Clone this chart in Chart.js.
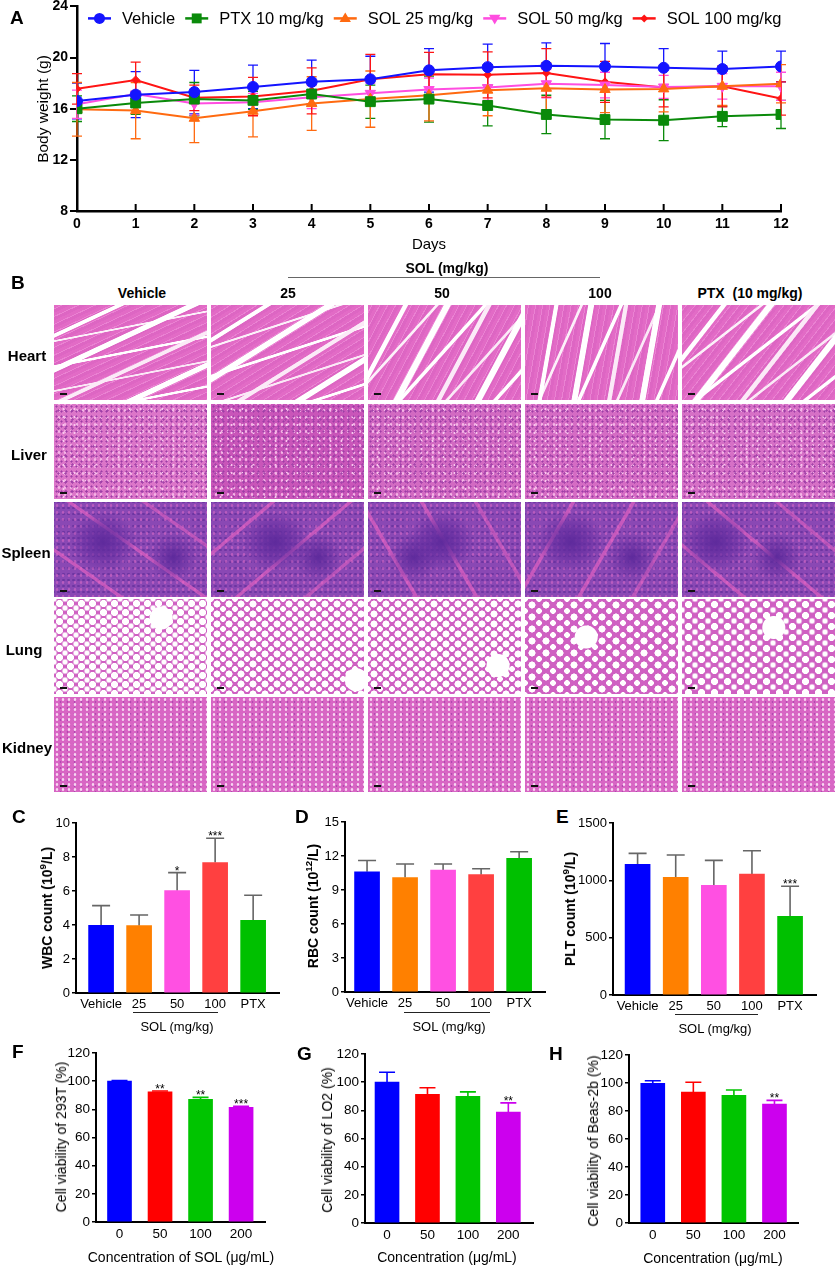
<!DOCTYPE html>
<html>
<head>
<meta charset="utf-8">
<script src="https://cdn.jsdelivr.net/npm/chart.js@4.4.0/dist/chart.umd.min.js"></script>
<style>
  html, body { margin: 0; padding: 0; background: #fff; }
  body { width: 837px; height: 1267px; overflow: hidden; position: relative;
         font-family: 'Liberation Sans', Arial, Helvetica, sans-serif; color: #000; }
  .t { position: absolute; white-space: pre; line-height: 1; transform: translate(-50%, -50%); }
  .r { transform: translate(-50%, -50%) rotate(-90deg); }
  .b { font-weight: bold; }
  .lt { position: absolute; font-weight: bold; font-size: 19px; line-height: 1; }
  .ul { position: absolute; height: 0; border-top: 1.5px solid #222; }
  .tile { position: absolute; overflow: hidden; }
  .sb { position: absolute; left: 6px; bottom: 5px; width: 7px; height: 2px; background: #111; }
  .box { position: absolute; }
  sup { font-size: 0.7em; line-height: 0; }
</style>
</head>
<body>
<script>
const FONT = "'Liberation Sans', Arial, Helvetica, sans-serif";

// ---------- A: body weight ----------
const days = [0, 1, 2, 3, 4, 5, 6, 7, 8, 9, 10, 11, 12];
const groupNames = ["Vehicle", "PTX 10 mg/kg", "SOL 25 mg/kg", "SOL 50 mg/kg", "SOL 100 mg/kg"];
const vehicleWt = [16.6, 17.1, 17.3, 17.7, 18.1, 18.3, 19.0, 19.25, 19.35, 19.3, 19.2, 19.1, 19.3];
const vehicleSd = [1.4, 1.8, 1.7, 1.7, 1.7, 1.8, 1.7, 1.8, 1.8, 1.8, 1.5, 1.4, 1.2];
const ptxWt = [16.0, 16.45, 16.75, 16.65, 17.15, 16.55, 16.75, 16.25, 15.55, 15.15, 15.1, 15.4, 15.55];
const ptxSd = [1.0, 0.9, 1.3, 0.7, 0.9, 1.3, 1.8, 1.6, 1.5, 1.5, 1.6, 0.8, 1.1];
const sol25Wt = [15.95, 15.85, 15.25, 15.8, 16.4, 16.75, 17.05, 17.45, 17.6, 17.5, 17.55, 17.75, 17.95];
const sol25Sd = [2.1, 2.2, 1.9, 2.0, 2.1, 2.2, 2.0, 2.0, 2.0, 1.8, 1.8, 1.5, 1.5];
const sol50Wt = [16.35, 17.15, 16.4, 16.5, 16.9, 17.2, 17.5, 17.65, 17.95, 17.85, 17.7, 17.75, 17.75];
const sol50Sd = [1.1, 1.0, 0.9, 0.7, 0.9, 0.8, 0.9, 1.0, 1.1, 1.0, 0.9, 1.0, 1.1];
const sol100Wt = [17.55, 18.25, 16.85, 16.95, 17.4, 18.3, 18.7, 18.65, 18.8, 18.1, 17.65, 17.75, 16.8];
const sol100Sd = [1.2, 1.4, 1.0, 1.5, 1.8, 1.95, 1.7, 1.8, 1.9, 1.6, 1.5, 1.6, 1.3];
const weightTicks = [8, 12, 16, 20, 24];

// ---------- C-E: blood counts ----------
const bloodCats = ["Vehicle", "25", "50", "100", "PTX"];
const wbc = [3.98, 3.96, 6.02, 7.67, 4.28];
const wbcSd = [1.16, 0.63, 1.06, 1.43, 1.47];
const wbcStars = ["", "", "*", "***", ""];
const rbc = [10.6, 10.1, 10.75, 10.35, 11.8];
const rbcSd = [1.0, 1.2, 0.55, 0.53, 0.58];
const rbcStars = ["", "", "", "", ""];
const plt = [1139, 1026, 956, 1055, 686];
const pltSd = [96, 195, 218, 203, 262];
const pltStars = ["", "", "", "", "***"];

// ---------- F-H: cell viability ----------
const concCats = ["0", "50", "100", "200"];
const via293 = [100, 92.5, 87.1, 81.5];
const via293Sd = [0.4, 0.5, 1.4, 0.6];
const via293Stars = ["", "**", "**", "***"];
const viaLo2 = [100, 91.3, 90.0, 78.7];
const viaLo2Sd = [7.0, 4.7, 3.1, 6.6];
const viaLo2Stars = ["", "", "", "**"];
const viaBeas = [99.8, 93.6, 91.2, 85.0];
const viaBeasSd = [1.8, 6.9, 3.8, 2.6];
const viaBeasStars = ["", "", "", "**"];

// ---------- B: histology grid labels ----------
const organs = ["Heart", "Liver", "Spleen", "Lung", "Kidney"];
const histoHeads = ["Vehicle", "25", "50", "100", "PTX  (10 mg/kg)"];

const groupColors = ["#1414ff", "#0a8a0a", "#ff6a10", "#ff4de0", "#ff1414"];
const bloodColors = ["#0000ff", "#ff8000", "#ff50e2", "#ff4040", "#00c000"];
const viaColors = ["#0000ff", "#ff0000", "#00c400", "#cc00ee"];

// ---------- helpers ----------
function addText(html, x, y, cls, size) {
  const d = document.createElement("div");
  d.className = "t " + (cls || "");
  d.style.left = x + "px";
  d.style.top = y + "px";
  d.style.fontSize = (size || 14) + "px";
  d.innerHTML = html;
  document.body.appendChild(d);
}
function addLetter(ch, x, y) {
  const d = document.createElement("div");
  d.className = "lt";
  d.style.left = x + "px";
  d.style.top = y + "px";
  d.textContent = ch;
  document.body.appendChild(d);
}
function addLine(x0, x1, y, color) {
  const d = document.createElement("div");
  d.className = "ul";
  d.style.left = x0 + "px";
  d.style.top = y + "px";
  d.style.width = (x1 - x0) + "px";
  if (color) d.style.borderTopColor = color;
  document.body.appendChild(d);
}
// area = [left, top, right, bottom] of the wanted chart area
function addCanvas(area, W, T, R, H) {
  const d = document.createElement("div");
  d.className = "box";
  d.style.left = (area[0] - W) + "px";
  d.style.top = (area[1] - T) + "px";
  d.style.width = (area[2] - area[0] + W + R) + "px";
  d.style.height = (area[3] - area[1] + T + H) + "px";
  const c = document.createElement("canvas");
  d.appendChild(c);
  document.body.appendChild(d);
  return c;
}

function drawMarker(ctx, style, x, y, r, rot) {
  ctx.beginPath();
  if (style === "circle") {
    ctx.arc(x, y, r, 0, Math.PI * 2);
  } else if (style === "rect") {
    const s = r * Math.SQRT1_2;
    ctx.rect(x - s, y - s, 2 * s, 2 * s);
  } else if (style === "rectRot") {
    ctx.moveTo(x, y - r); ctx.lineTo(x + r, y); ctx.lineTo(x, y + r); ctx.lineTo(x - r, y);
    ctx.closePath();
  } else {
    const dir = rot === 180 ? -1 : 1;
    ctx.moveTo(x, y - dir * r);
    ctx.lineTo(x + r * 0.95, y + dir * r * 0.6);
    ctx.lineTo(x - r * 0.95, y + dir * r * 0.6);
    ctx.closePath();
  }
  ctx.fill();
}

const errorBars = {
  id: "errorBars",
  beforeDatasetsDraw(chart, args, opts) {
    const ctx = chart.ctx;
    const y = chart.scales.y;
    chart.data.datasets.forEach((ds, i) => {
      if (!ds.errors) return;
      const meta = chart.getDatasetMeta(i);
      ctx.save();
      ctx.lineWidth = opts.width || 1.5;
      meta.data.forEach((el, j) => {
        const v = ds.data[j].y;
        const e = ds.errors[j];
        const c = ds.errorColor;
        ctx.strokeStyle = Array.isArray(c) ? c[j] : c;
        const yTop = y.getPixelForValue(v + e);
        const yBot = y.getPixelForValue(opts.both ? v - e : v);
        const cap = opts.cap / 2;
        ctx.beginPath();
        ctx.moveTo(el.x, yBot); ctx.lineTo(el.x, yTop);
        ctx.moveTo(el.x - cap, yTop); ctx.lineTo(el.x + cap, yTop);
        if (opts.both) { ctx.moveTo(el.x - cap, yBot); ctx.lineTo(el.x + cap, yBot); }
        ctx.stroke();
      });
      ctx.restore();
    });
  },
  afterDatasetsDraw(chart) {
    const ctx = chart.ctx;
    const y = chart.scales.y;
    chart.data.datasets.forEach((ds, i) => {
      if (!ds.stars) return;
      const meta = chart.getDatasetMeta(i);
      ctx.save();
      ctx.font = "12px " + FONT;
      ctx.fillStyle = "#000";
      ctx.textAlign = "center";
      ctx.textBaseline = "alphabetic";
      meta.data.forEach((el, j) => {
        if (!ds.stars[j]) return;
        const yTop = y.getPixelForValue(ds.data[j].y + ds.errors[j]);
        ctx.fillText(ds.stars[j], el.x, yTop + 2);
      });
      ctx.restore();
    });
  }
};

// inward x ticks for panel A
const innerXTicks = {
  id: "innerXTicks",
  afterDraw(chart) {
    const ctx = chart.ctx;
    const x = chart.scales.x;
    const b = chart.chartArea.bottom;
    ctx.save();
    ctx.strokeStyle = "#000";
    ctx.lineWidth = 2;
    ctx.beginPath();
    x.ticks.forEach(t => {
      const px = x.getPixelForValue(t.value);
      ctx.moveTo(px, b); ctx.lineTo(px, b - 7);
    });
    ctx.stroke();
    ctx.restore();
  }
};

// legend drawn in a row inside the plot area
const inlineLegend = {
  id: "inlineLegend",
  afterDraw(chart) {
    const ctx = chart.ctx;
    const area = chart.chartArea;
    let x = area.left + 11;
    const y = area.top + 12;
    ctx.save();
    ctx.font = "16.5px " + FONT;
    ctx.textBaseline = "middle";
    chart.data.datasets.forEach(ds => {
      ctx.strokeStyle = ds.borderColor;
      ctx.fillStyle = ds.borderColor;
      ctx.lineWidth = 2.5;
      ctx.beginPath();
      ctx.moveTo(x, y); ctx.lineTo(x + 23, y);
      ctx.stroke();
      drawMarker(ctx, ds.pointStyle, x + 11.5, y, ds.pointRadius, ds.pointRotation);
      ctx.fillStyle = "#000";
      ctx.fillText(ds.label, x + 34, y + 1);
      x += 34 + ctx.measureText(ds.label).width + 10;
    });
    ctx.restore();
  }
};

// ---------- A ----------
function weightSeries(name, wt, sd, color, style, radius, rot) {
  return {
    label: name,
    data: days.map((d, i) => ({ x: d, y: wt[i] })),
    errors: sd,
    errorColor: color,
    borderColor: color,
    backgroundColor: color,
    borderWidth: 2,
    pointStyle: style,
    pointRadius: radius,
    pointRotation: rot || 0,
    pointBackgroundColor: color,
    pointBorderColor: color,
    pointBorderWidth: 1,
    tension: 0
  };
}

new Chart(addCanvas([77, 6, 781, 211], 77, 10, 56, 30), {
  type: "line",
  data: {
    datasets: [
      weightSeries(groupNames[0], vehicleWt, vehicleSd, groupColors[0], "circle", 5.5),
      weightSeries(groupNames[1], ptxWt, ptxSd, groupColors[1], "rect", 7),
      weightSeries(groupNames[2], sol25Wt, sol25Sd, groupColors[2], "triangle", 6),
      weightSeries(groupNames[3], sol50Wt, sol50Sd, groupColors[3], "triangle", 6, 180),
      weightSeries(groupNames[4], sol100Wt, sol100Sd, groupColors[4], "rectRot", 4)
    ]
  },
  options: {
    responsive: true,
    maintainAspectRatio: false,
    animation: false,
    layout: { padding: { top: 10, right: 56, left: 0, bottom: 0 } },
    plugins: { legend: { display: false }, tooltip: { enabled: false }, errorBars: { cap: 10, width: 1.3, both: true } },
    scales: {
      x: {
        type: "linear", min: 0, max: 12, offset: false,
        afterBuildTicks: s => { s.ticks = days.map(d => ({ value: d })); },
        afterFit: s => { s.height = 30; },
        grid: { display: false, drawTicks: false },
        border: { color: "#000", width: 2.5 },
        ticks: { font: { size: 14, weight: "bold" }, color: "#000", padding: 5, maxRotation: 0, autoSkip: false }
      },
      y: {
        min: 8, max: 24,
        afterBuildTicks: s => { s.ticks = weightTicks.map(v => ({ value: v })); },
        afterFit: s => { s.width = 77; },
        grid: { drawOnChartArea: false, drawTicks: true, tickLength: 7, color: "#000", lineWidth: 2 },
        border: { color: "#000", width: 2.5 },
        ticks: { font: { size: 14, weight: "bold" }, color: "#000", padding: 2 }
      }
    }
  },
  plugins: [errorBars, innerXTicks, inlineLegend]
});

addLetter("A", 10, 8);
addText("Body weight (g)", 43, 109, "r", 15.5);
addText("Days", 429, 243, "", 15);

// ---------- B: histology tiles (stand-in textures) ----------
const colX = [54, 211, 368, 525, 682];
const rowY = [305, 404, 502, 599, 697];
const tileW = 153, tileH = 95;

function tissue(organ, c) {
  if (organ === "Heart") {
    const a = [155, 148, 118, 100, 128][c];
    return `linear-gradient(${a}deg, transparent 0 17%, #fff 17.5% 19.5%, transparent 20% 37%, #fff 37.5% 40.5%, transparent 41% 58%, #fbeaf7 58.5% 60.5%, transparent 61% 77%, #fff 77.5% 80.5%, transparent 81%),
            linear-gradient(${a + 14}deg, transparent 0 28%, rgba(255,255,255,.9) 28.5% 29.5%, transparent 30% 48%, #fff 48.5% 50%, transparent 50.5% 68%, rgba(255,255,255,.85) 68.5% 69.5%, transparent 70% 88%, #fff 88.5% 90%, transparent 90.5%),
            repeating-linear-gradient(${a}deg, #e26bc6 0 3px, #ea82d2 3px 4px, #dd66c3 4px 7px)`;
  }
  if (organ === "Liver") {
    const base = ["#dc76c9", "#c955b9", "#d26ac2", "#d56cc4", "#d670c6"][c];
    return `radial-gradient(circle, #9d3da6 0 0.8px, transparent 1.3px) 0 0/5px 5px,
            radial-gradient(circle, #a445aa 0 0.9px, transparent 1.4px) 1px 2px/7px 9px,
            radial-gradient(circle, #f4b4e6 0 1px, transparent 1.6px) 2px 3px/6px 7px,
            radial-gradient(circle, #f8c8ee 0 0.8px, transparent 1.3px) 4px 1px/11px 8px, ${base}`;
  }
  if (organ === "Spleen") {
    return `radial-gradient(ellipse 22% 32% at ${[32, 42, 48, 30, 22][c]}% 42%, #5e2a9c 0, rgba(100,45,160,.6) 55%, transparent 100%),
            radial-gradient(ellipse 16% 26% at ${[78, 70, 30, 70, 62][c]}% 58%, #5e2a9c 0, transparent 100%),
            linear-gradient(${[35, 140, 60, 120, 40][c]}deg, transparent 0 22%, rgba(238,100,195,.6) 22.5% 24%, transparent 24.5% 51%, rgba(238,100,195,.6) 51.5% 53%, transparent 53.5% 77%, rgba(238,100,195,.5) 77.5% 79%, transparent 79.5%),
            radial-gradient(circle, rgba(225,110,200,.55) 0 1px, transparent 1.6px) 0 0/6px 7px,
            radial-gradient(circle, rgba(90,40,150,.6) 0 1px, transparent 1.5px) 2px 3px/5px 6px,
            #8a48b4`;
  }
  if (organ === "Lung") {
    const cell = [11, 12, 12, 14, 13][c];
    return `radial-gradient(circle at ${[70, 95, 85, 40, 60][c]}% ${[20, 85, 70, 40, 30][c]}%, #fff 0 11px, transparent 12px),
            radial-gradient(circle, #fff 0 3.3px, transparent 3.8px) 0 0/${cell}px ${cell - 2}px,
            radial-gradient(circle, #fff 0 2.6px, transparent 3.1px) ${cell / 2}px ${cell / 2 - 1}px/${cell}px ${cell - 2}px,
            #cf60c2`;
  }
  return `radial-gradient(circle, #f8d6f2 0 1px, transparent 1.6px) 0 0/6px 5px,
          radial-gradient(circle, #b248b0 0 0.7px, transparent 1.2px) 3px 2px/7px 6px, #d866c4`;
}

organs.forEach((organ, r) => {
  colX.forEach((x, c) => {
    const d = document.createElement("div");
    d.className = "tile";
    d.style.left = x + "px";
    d.style.top = rowY[r] + "px";
    d.style.width = tileW + "px";
    d.style.height = tileH + "px";
    d.style.background = tissue(organ, c);
    const sb = document.createElement("div");
    sb.className = "sb";
    d.appendChild(sb);
    document.body.appendChild(d);
  });
});

addLetter("B", 11, 273);
addText("SOL (mg/kg)", 447, 268, "b", 14);
addLine(288, 600, 277, "#666");
const headX = [142, 288, 442, 600, 750];
histoHeads.forEach((h, i) => addText(h, headX[i], 293, "b", 14));
const rowLabelX = [27, 29, 26, 24, 27];
organs.forEach((o, r) => addText(o, rowLabelX[r], rowY[r] + 50, "b", 15));

// ---------- bar panels ----------
function barPanel(area, cats, vals, errs, stars, colors, errColor, yMax, yStep, xMin, xMax, barW, tickSize, cap) {
  const W = 44, T = 14, R = 8, H = 24;
  return new Chart(addCanvas(area, W, T, R, H), {
    type: "bar",
    data: {
      datasets: [{
        data: vals.map((v, i) => ({ x: i, y: v })),
        backgroundColor: colors,
        borderWidth: 0,
        barThickness: barW,
        errors: errs,
        errorColor: errColor,
        stars: stars
      }]
    },
    options: {
      responsive: true,
      maintainAspectRatio: false,
      animation: false,
      layout: { padding: { top: T, right: R, left: 0, bottom: 0 } },
      plugins: { legend: { display: false }, tooltip: { enabled: false }, errorBars: { cap: cap, width: 1.6 } },
      scales: {
        x: {
          type: "linear", min: xMin, max: xMax, offset: false,
          afterBuildTicks: s => { s.ticks = cats.map((c, i) => ({ value: i })); },
          afterFit: s => { s.height = H; },
          grid: { display: false, drawTicks: false },
          border: { color: "#000", width: 2 },
          ticks: { font: { size: tickSize }, color: "#000", padding: 4, maxRotation: 0, autoSkip: false,
                   callback: v => cats[v] }
        },
        y: {
          min: 0, max: yMax,
          ticks: { stepSize: yStep, font: { size: tickSize }, color: "#000", padding: 2,
                   callback: v => String(v) },
          afterFit: s => { s.width = W; },
          grid: { drawOnChartArea: false, drawTicks: true, tickLength: 4, color: "#000", lineWidth: 1.5 },
          border: { color: "#000", width: 2 }
        }
      }
    },
    plugins: [errorBars]
  });
}

// C
barPanel([76, 823, 279, 993], bloodCats, wbc, wbcSd, wbcStars, bloodColors, "#666", 10, 2, -0.66, 4.68, 25, 13, 18);
addLetter("C", 12, 807);
addText("WBC count (10<sup>9</sup>/L)", 47, 908, "r b", 14);
addLine(133, 218, 1012);
addText("SOL (mg/kg)", 177, 1026, "", 13);
// D
barPanel([345, 822, 545, 992], bloodCats, rbc, rbcSd, rbcStars, bloodColors, "#666", 15, 3, -0.58, 4.68, 25, 13, 18);
addLetter("D", 295, 807);
addText("RBC count (10<sup>12</sup>/L)", 313, 906, "r b", 14);
addLine(404, 490, 1012);
addText("SOL (mg/kg)", 449, 1026, "", 13);
// E
barPanel([613, 823, 816, 995], bloodCats, plt, pltSd, pltStars, bloodColors, "#666", 1500, 500, -0.645, 4.68, 25, 13, 18);
addLetter("E", 556, 807);
addText("PLT count (10<sup>9</sup>/L)", 570, 909, "r b", 14);
addLine(675, 758, 1014);
addText("SOL (mg/kg)", 715, 1028, "", 13);

// F
barPanel([96, 1053, 265, 1222], concCats, via293, via293Sd, via293Stars, viaColors, viaColors, 120, 20, -0.58, 3.59, 24, 13.5, 16);
addLetter("F", 12, 1042);
addText("Cell viability of 293T (%)", 61, 1137, "r", 14);
addText("Concentration of SOL (μg/mL)", 181, 1257, "", 14);
// G
barPanel([365, 1054, 533, 1223], concCats, viaLo2, viaLo2Sd, viaLo2Stars, viaColors, viaColors, 120, 20, -0.545, 3.61, 24, 13.5, 16);
addLetter("G", 297, 1044);
addText("Cell viability of LO2 (%)", 327, 1140, "r", 14);
addText("Concentration (μg/mL)", 447, 1257, "", 14);
// H
barPanel([629, 1055, 798, 1223], concCats, viaBeas, viaBeasSd, viaBeasStars, viaColors, viaColors, 120, 20, -0.586, 3.58, 24, 13.5, 16);
addLetter("H", 549, 1044);
addText("Cell viability of Beas-2b (%)", 593, 1141, "r", 14);
addText("Concentration (μg/mL)", 713, 1258, "", 14);
</script>
</body>
</html>
